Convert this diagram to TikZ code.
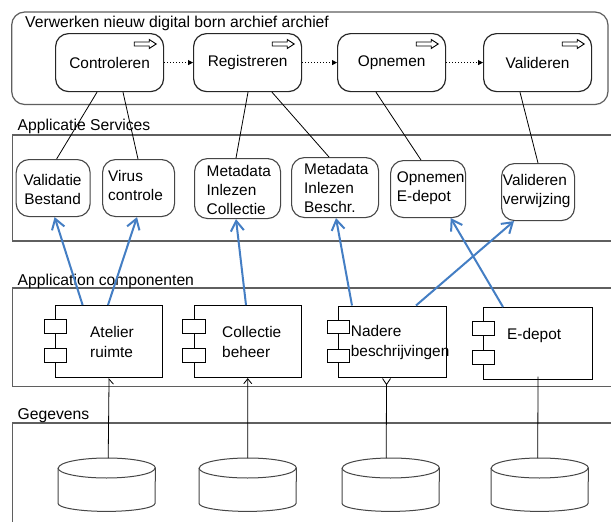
\documentclass[tikz,border=0pt]{standalone}
\usepackage{fontspec}
\setmainfont{Liberation Sans}
\usetikzlibrary{arrows.meta}

\definecolor{framegray}{RGB}{95,95,95}
\definecolor{svcgray}{RGB}{70,70,70}
\definecolor{linkblue}{RGB}{68,126,196}

% database drum drawn inside the box of a named node
\newcommand{\drum}[1]{%
  \filldraw[dbline, fill=white]
    ([yshift=-10pt]#1.north west) -- ([yshift=8pt]#1.south west)
    arc[start angle=180, end angle=360, x radius=48.5pt, y radius=8pt]
    -- ([yshift=-10pt]#1.north east)
    arc[start angle=0, end angle=180, x radius=48.5pt, y radius=10pt] -- cycle;
  \draw[dbline] ([yshift=-10pt]#1.north west)
    arc[start angle=180, end angle=360, x radius=48.5pt, y radius=10pt];
}

\tikzset{
  txt/.style={font=\fontsize{15.4}{19}\selectfont, inner sep=0pt},
  frame/.style={draw=framegray, line width=1.2pt},
  layerlabel/.style={font=\fontsize{15.7}{19}\selectfont, inner sep=0pt, anchor=base west},
  process/.style={txt, draw=black!85, line width=1.2pt, rounded corners=13pt,
    fill=white, minimum width=108pt, minimum height=58pt, anchor=north west},
  stepicon/.pic={\draw[line width=0.9pt, fill=white]
    (-30,9) -- (-15,9) -- (-15,6.5) -- (-8,11) -- (-15,15.5) -- (-15,13) -- (-30,13) -- cycle;},
  flowarrow/.style={dotted, line width=1pt, -{Triangle[length=5pt,width=5pt]}},
  svc/.style={draw=svcgray, line width=1.1pt, rounded corners=13pt, fill=white,
    anchor=north west, inner sep=0pt},
  svctext/.style={txt, anchor=west, align=left},
  comptext/.style={font=\fontsize{15.4}{20}\selectfont, inner sep=0pt, anchor=west, align=left},
  comp/.style={draw=black, line width=1.1pt, fill=white, anchor=north west,
    minimum width=107pt, minimum height=72pt, inner sep=0pt},
  port/.style={draw=black, line width=1pt, fill=white, anchor=north west,
    minimum width=22.5pt, minimum height=13.5pt, inner sep=0pt},
  db/.style={draw=none, anchor=north west, minimum width=97pt, minimum height=53pt, inner sep=0pt},
  dbline/.style={draw=svcgray, line width=1pt},
  uses/.style={draw=black, line width=0.8pt},
  realizes/.style={draw=linkblue, line width=2pt, -{Straight Barb[length=10pt,width=13pt]}},
  feed/.style={draw=black, line width=0.8pt},
}

\begin{document}
\begin{tikzpicture}[x=1pt, y=-1pt]
\clip (0,0) rectangle (611,522);
\fill[white] (0,0) rectangle (611,522);

% layer frames
\draw[frame, rounded corners=13pt] (11.7,12) rectangle (608,104.5);
\draw[frame] (12.5,135) rectangle (640,241);
\draw[frame] (12.5,288) rectangle (640,386.5);
\draw[frame] (12.5,423) rectangle (640,560);

% layer titles
\node[layerlabel] (lblproc) at (25,27.3) {Verwerken nieuw digital born archief archief};
\node[layerlabel] (lblsvc) at (17.5,130) {Applicatie Services};
\node[layerlabel] (lblcomp) at (17.5,285) {Application componenten};
\node[layerlabel] (lbldata) at (17.5,419.5) {Gegevens};

% process steps
\node[process] (p1) at (55,33) {Controleren};
\node[process] (p2) at (193,33) {Registreren};
\node[process] (p3) at (337,33) {Opnemen};
\node[process] (p4) at (483,33) {Valideren};
\foreach \p in {p1,p2,p3,p4} \pic at (\p.north east) {stepicon};

\draw[flowarrow] (p1.east) -- (p2.west);
\draw[flowarrow] (p2.east) -- (p3.west);
\draw[flowarrow] (p3.east) -- (p4.west);

% application services
\node[svc, minimum width=74pt, minimum height=57pt] (s1) at (15.6,159) {};
\node[svc, minimum width=72pt, minimum height=57pt] (s2) at (102,159) {};
\node[svc, minimum width=86pt, minimum height=60pt] (s3) at (194,158) {};
\node[svc, minimum width=87pt, minimum height=60pt] (s4) at (291,157) {};
\node[svc, minimum width=75pt, minimum height=57pt] (s5) at (390,160) {};
\node[svc, minimum width=73pt, minimum height=57pt] (s6) at (501,163) {};

\node[txt, align=center] (t1) at (52.6,189) {Validatie\\Bestand};
\node[svctext] (t2) at (108,185.5) {Virus\\controle};
\node[svctext] (t3) at (206.5,190.2) {Metadata\\Inlezen\\Collectie};
\node[svctext] (t4) at (304,187.5) {Metadata\\Inlezen\\Beschr.};
\node[svctext] (t5) at (396.7,188.6) {Opnemen\\E-depot};
\node[svctext] (t6) at (502.7,190.6) {Valideren\\verwijzing};

% application components
\node[comp] (c1) at (55,305) {};
\node[comp] (c2) at (193.7,305) {};
\node[comp, minimum width=108pt, minimum height=71.5pt] (c3) at (338,305.5) {};
\node[comp, minimum width=109pt, minimum height=71.5pt] (c4) at (483,307) {};
\foreach \c in {c1,c2,c3,c4} {
  \node[port] (\c pa) at ([shift={(-11.5,14)}]\c.north west) {};
  \node[port] (\c pb) at ([shift={(-11.5,43)}]\c.north west) {};
}

\node[comptext] (a1) at (90,341.5) {Atelier\\ruimte};
\node[comptext] (a2) at (222,341.5) {Collectie\\beheer};
\node[comptext] (a3) at (350.7,343) {Nadere\\beschrijvingen};
\node[comptext] (a4) at (507,336) {E-depot};

% data stores
\node[db] (d1) at (58,458) {};
\node[db] (d2) at (199,458) {};
\node[db] (d3) at (342,458) {};
\node[db] (d4) at (491,458) {};
\foreach \d in {d1,d2,d3,d4} \drum{\d};

% process steps use services
\draw[uses] ([xshift=42pt]p1.south west) -- ([xshift=41pt]s1.north west);
\draw[uses] ([xshift=68pt]p1.south west) -- ([xshift=36pt]s2.north west);
\draw[uses] ([xshift=55pt]p2.south west) -- ([xshift=42pt]s3.north west);
\draw[uses] ([xshift=79pt]p2.south west) -- ([xshift=38pt]s4.north west);
\draw[uses] ([xshift=39pt]p3.south west) -- ([xshift=31pt]s5.north west);
\draw[uses] ([xshift=37pt]p4.south west) -- ([xshift=37pt]s6.north west);

% components realize services
\draw[realizes] ([xshift=27.6pt]c1.north west) -- ([xshift=39pt]s1.south west);
\draw[realizes] ([xshift=53pt]c1.north west) -- ([xshift=35pt]s2.south west);
\draw[realizes] ([xshift=52.3pt]c2.north west) -- ([xshift=42pt]s3.south west);
\draw[realizes] ([xshift=14pt]c3.north west) -- ([xshift=45pt]s4.south west);
\draw[realizes] ([xshift=78pt]c3.north west) -- ([xshift=13pt]s6.south west);
\draw[realizes] ([xshift=20pt]c4.north west) -- ([xshift=60.7pt]s5.south west);

% data stores feed components
\draw[feed, -{Straight Barb[right,length=5pt,width=9pt]}] ([xshift=1.5pt]d1.north) -- (c1.south);
\draw[feed, -{Straight Barb[length=5pt,width=8pt]}] (d2.north) -- (c2.south);
\draw[feed, -{Straight Barb[reversed,length=6pt,width=8pt]}] ([xshift=-4.5pt]d3.north) -- ([xshift=-6pt]c3.south);
\draw[feed] ([xshift=-2pt]d4.north) -- ([yshift=3pt]c4.south);
\end{tikzpicture}
\end{document}
